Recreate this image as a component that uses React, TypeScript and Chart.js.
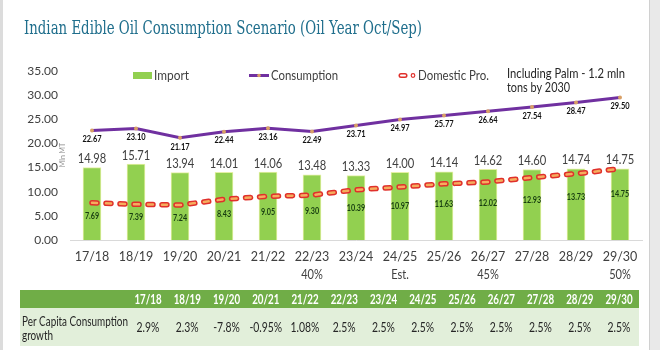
import React, { useEffect, useRef } from 'react';
import { Chart, registerables } from 'chart.js';

Chart.register(...registerables);

// ---------- data ----------
const categories = ['17/18', '18/19', '19/20', '20/21', '21/22', '22/23', '23/24', '24/25', '25/26', '26/27', '27/28', '28/29', '29/30'];
const importValues = [14.98, 15.71, 13.94, 14.01, 14.06, 13.48, 13.33, 14.0, 14.14, 14.62, 14.6, 14.74, 14.75];
const consumptionValues = [22.67, 23.1, 21.17, 22.44, 23.16, 22.49, 23.71, 24.97, 25.77, 26.64, 27.54, 28.47, 29.5];
const domesticValues = [7.69, 7.39, 7.24, 8.43, 9.05, 9.3, 10.39, 10.97, 11.63, 12.02, 12.93, 13.73, 14.75];
const perCapitaGrowth = ['2.9%', '2.3%', '-7.8%', '-0.95%', '1.08%', '2.5%', '2.5%', '2.5%', '2.5%', '2.5%', '2.5%', '2.5%', '2.5%'];
const yMin = 0;
const yMax = 35;
const yStep = 5;
const axisNotes = [
  { category: '22/23', text: '40%' },
  { category: '24/25', text: 'Est.' },
  { category: '26/27', text: '45%' },
  { category: '29/30', text: '50%' },
];
const titleText = 'Indian Edible Oil Consumption Scenario (Oil Year Oct/Sep)';
const sideNote = ['Including Palm - 1.2 mln', 'tons by 2030'];
const tableRowLabel = ['Per Capita Consumption', 'growth'];
const yAxisTitle = 'Mln MT';

// ---------- styles ----------
const FONT = 'Lato, "Open Sans", sans-serif';
const GREEN = '#92d050';
const PURPLE = '#7030a0';
const RED = '#e0302b';
const ORANGE = '#f5ad5e';
const TEXT = '#404040';

function drawText(
  ctx: CanvasRenderingContext2D,
  str: string,
  x: number,
  y: number,
  font: string,
  color: string,
  align: CanvasTextAlign = 'center',
  sx = 1,
  baseline: CanvasTextBaseline = 'middle'
) {
  ctx.save();
  ctx.font = font;
  ctx.fillStyle = color;
  ctx.textAlign = align;
  ctx.textBaseline = baseline;
  ctx.translate(x, y);
  ctx.scale(sx, 1);
  ctx.fillText(str, 0, 0);
  ctx.restore();
}

function fitText(
  ctx: CanvasRenderingContext2D,
  str: string,
  x: number,
  y: number,
  font: string,
  color: string,
  width: number,
  align: CanvasTextAlign = 'left',
  baseline: CanvasTextBaseline = 'middle'
) {
  ctx.save();
  ctx.font = font;
  const w = ctx.measureText(str).width;
  ctx.restore();
  drawText(ctx, str, x, y, font, color, align, width / w, baseline);
}

const decorPlugin = {
  id: 'decor',
  beforeDraw(chart: any) {
    const ctx: CanvasRenderingContext2D = chart.ctx;
    ctx.save();
    ctx.fillStyle = '#ffffff';
    ctx.fillRect(0, 0, chart.width, chart.height);
    ctx.fillStyle = '#dcdcdc';
    ctx.fillRect(0, 0, 3, chart.height);
    ctx.fillStyle = '#e9e9e9';
    ctx.fillRect(649, 0, chart.width - 649, chart.height);
    ctx.fillStyle = '#d0d0d0';
    ctx.fillRect(649, 0, 1, chart.height);
    ctx.restore();
  },
  afterDatasetsDraw(chart: any) {
    const ctx: CanvasRenderingContext2D = chart.ctx;
    const yScale = chart.scales.y;
    const base = yScale.getPixelForValue(0);
    chart.getDatasetMeta(0).data.forEach((el: any, i: number) => {
      drawText(ctx, importValues[i].toFixed(2), el.x, el.y - 9, `14px ${FONT}`, TEXT, 'center', 0.8);
    });
    chart.getDatasetMeta(1).data.forEach((el: any, i: number) => {
      drawText(ctx, consumptionValues[i].toFixed(2), el.x, el.y + 9, `bold 8.5px ${FONT}`, '#111111', 'center', 0.88);
    });
    chart.getDatasetMeta(2).data.forEach((el: any, i: number) => {
      const y = el.y + 0.36 * (base - el.y);
      drawText(ctx, domesticValues[i].toFixed(2), el.x, y, `bold 9px ${FONT}`, '#173d10', 'center', 0.8);
    });
  },
  afterDraw(chart: any) {
    const ctx: CanvasRenderingContext2D = chart.ctx;
    const xScale = chart.scales.x;

    // title
    fitText(ctx, titleText, 24, 34, `19px "DejaVu Serif", "Liberation Serif", serif`, '#1f6e8c', 398, 'left', 'alphabetic');

    // legend
    const ds = chart.data.datasets;
    ctx.save();
    ctx.fillStyle = ds[0].backgroundColor;
    ctx.fillRect(133, 72, 19, 7);
    ctx.restore();
    fitText(ctx, ds[0].label, 154, 75.5, `13.5px ${FONT}`, TEXT, 35);

    ctx.save();
    ctx.strokeStyle = ds[1].borderColor;
    ctx.lineWidth = 3;
    ctx.beginPath();
    ctx.moveTo(249, 75.5);
    ctx.lineTo(269, 75.5);
    ctx.stroke();
    ctx.fillStyle = ds[1].pointBackgroundColor;
    ctx.beginPath();
    ctx.arc(259, 75.5, 1.8, 0, Math.PI * 2);
    ctx.fill();
    ctx.restore();
    fitText(ctx, ds[1].label, 271, 75.5, `13.5px ${FONT}`, TEXT, 67);

    ctx.save();
    ctx.lineCap = 'round';
    ctx.strokeStyle = ds[2].borderColor;
    ctx.lineWidth = 5;
    ctx.beginPath();
    ctx.moveTo(401, 75.5);
    ctx.lineTo(405, 75.5);
    ctx.stroke();
    ctx.strokeStyle = '#ffffff';
    ctx.lineWidth = 2;
    ctx.beginPath();
    ctx.moveTo(401, 75.5);
    ctx.lineTo(405, 75.5);
    ctx.stroke();
    ctx.strokeStyle = ds[2].borderColor;
    ctx.lineWidth = 1.2;
    ctx.fillStyle = '#ffffff';
    ctx.beginPath();
    ctx.arc(413, 75.5, 1.8, 0, Math.PI * 2);
    ctx.fill();
    ctx.stroke();
    ctx.restore();
    fitText(ctx, ds[2].label, 418, 75.5, `13.5px ${FONT}`, TEXT, 71);

    // side note
    fitText(ctx, sideNote[0], 507, 74, `13.5px ${FONT}`, '#262626', 118);
    fitText(ctx, sideNote[1], 507, 88, `13.5px ${FONT}`, '#262626', 63);

    // y axis title
    ctx.save();
    ctx.translate(63, 155);
    ctx.rotate(-Math.PI / 2);
    drawText(ctx, yAxisTitle, 0, 0, `7px ${FONT}`, '#8a8a8a', 'center', 1);
    ctx.restore();

    // notes under axis
    axisNotes.forEach((n) => {
      const idx = categories.indexOf(n.category);
      const x = xScale.getPixelForValue(idx);
      drawText(ctx, n.text, x, 275, `13px ${FONT}`, TEXT, 'center', 0.85);
    });

    // table
    const tx = 20;
    const tw = 619;
    ctx.save();
    ctx.fillStyle = '#70ad47';
    ctx.fillRect(tx, 290, tw, 18);
    ctx.fillStyle = '#e2efda';
    ctx.fillRect(tx, 308, tw, 38);
    ctx.restore();
    categories.forEach((c, i) => {
      const cx = 148 + i * 39.25;
      drawText(ctx, c, cx, 299.5, `bold 12.5px ${FONT}`, '#ffffff', 'center', 0.78);
      drawText(ctx, perCapitaGrowth[i], cx, 328, `13px ${FONT}`, '#262626', 'center', 0.8);
    });
    fitText(ctx, tableRowLabel[0], 22, 322, `13px ${FONT}`, '#262626', 106);
    fitText(ctx, tableRowLabel[1], 22, 336, `13px ${FONT}`, '#262626', 31);
  },
};

export default function App() {
  const ref = useRef<HTMLCanvasElement>(null);

  useEffect(() => {
    const canvas = ref.current;
    if (!canvas) return;
    const chart = new Chart(canvas, {
      type: 'bar',
      data: {
        labels: categories,
        datasets: [
          {
            type: 'bar',
            label: 'Import',
            data: importValues,
            backgroundColor: GREEN,
            borderColor: '#e4f0a4',
            borderWidth: 1,
            barThickness: 18,
            order: 4,
          } as any,
          {
            type: 'line',
            label: 'Consumption',
            data: consumptionValues,
            borderColor: PURPLE,
            borderWidth: 3,
            pointRadius: 2,
            pointBackgroundColor: '#d9a066',
            pointBorderWidth: 0,
            tension: 0,
            order: 1,
          } as any,
          {
            type: 'line',
            label: 'Domestic Pro.',
            data: domesticValues,
            borderColor: RED,
            borderWidth: 5.5,
            borderDash: [5, 9],
            borderCapStyle: 'round',
            pointRadius: 0,
            tension: 0,
            order: 3,
          } as any,
          {
            type: 'line',
            label: 'Domestic Pro. inner',
            data: domesticValues,
            borderColor: ORANGE,
            borderWidth: 2.5,
            borderDash: [5, 9],
            borderCapStyle: 'round',
            pointRadius: 0,
            tension: 0,
            order: 2,
          } as any,
        ],
      },
      options: {
        responsive: false,
        animation: false,
        devicePixelRatio: 1,
        layout: { padding: { top: 71, right: 18, left: 0, bottom: 0 } },
        plugins: {
          legend: { display: false },
          tooltip: { enabled: false },
          title: { display: false },
        },
        scales: {
          x: {
            offset: true,
            grid: { display: false, drawTicks: false },
            border: { display: true, color: '#d9d9d9', width: 1 },
            ticks: {
              font: { family: FONT, size: 12.5 },
              color: TEXT,
              padding: 9,
              maxRotation: 0,
              autoSkip: false,
            },
            afterFit: (scale: any) => {
              scale.height = 110;
            },
          },
          y: {
            min: yMin,
            max: yMax,
            grid: { display: false, drawTicks: false },
            border: { display: false },
            ticks: {
              stepSize: yStep,
              font: { family: FONT, size: 12 },
              color: TEXT,
              padding: 12,
              callback: (v: any) => Number(v).toFixed(2),
            },
            afterFit: (scale: any) => {
              scale.width = 70;
            },
          },
        },
      } as any,
      plugins: [decorPlugin],
    });
    return () => chart.destroy();
  }, []);

  return (
    <div style={{ position: 'fixed', left: 0, top: 0, width: 660, height: 350, background: '#ffffff' }}>
      <canvas ref={ref} width={660} height={350} style={{ display: 'block', width: 660, height: 350 }} />
    </div>
  );
}
